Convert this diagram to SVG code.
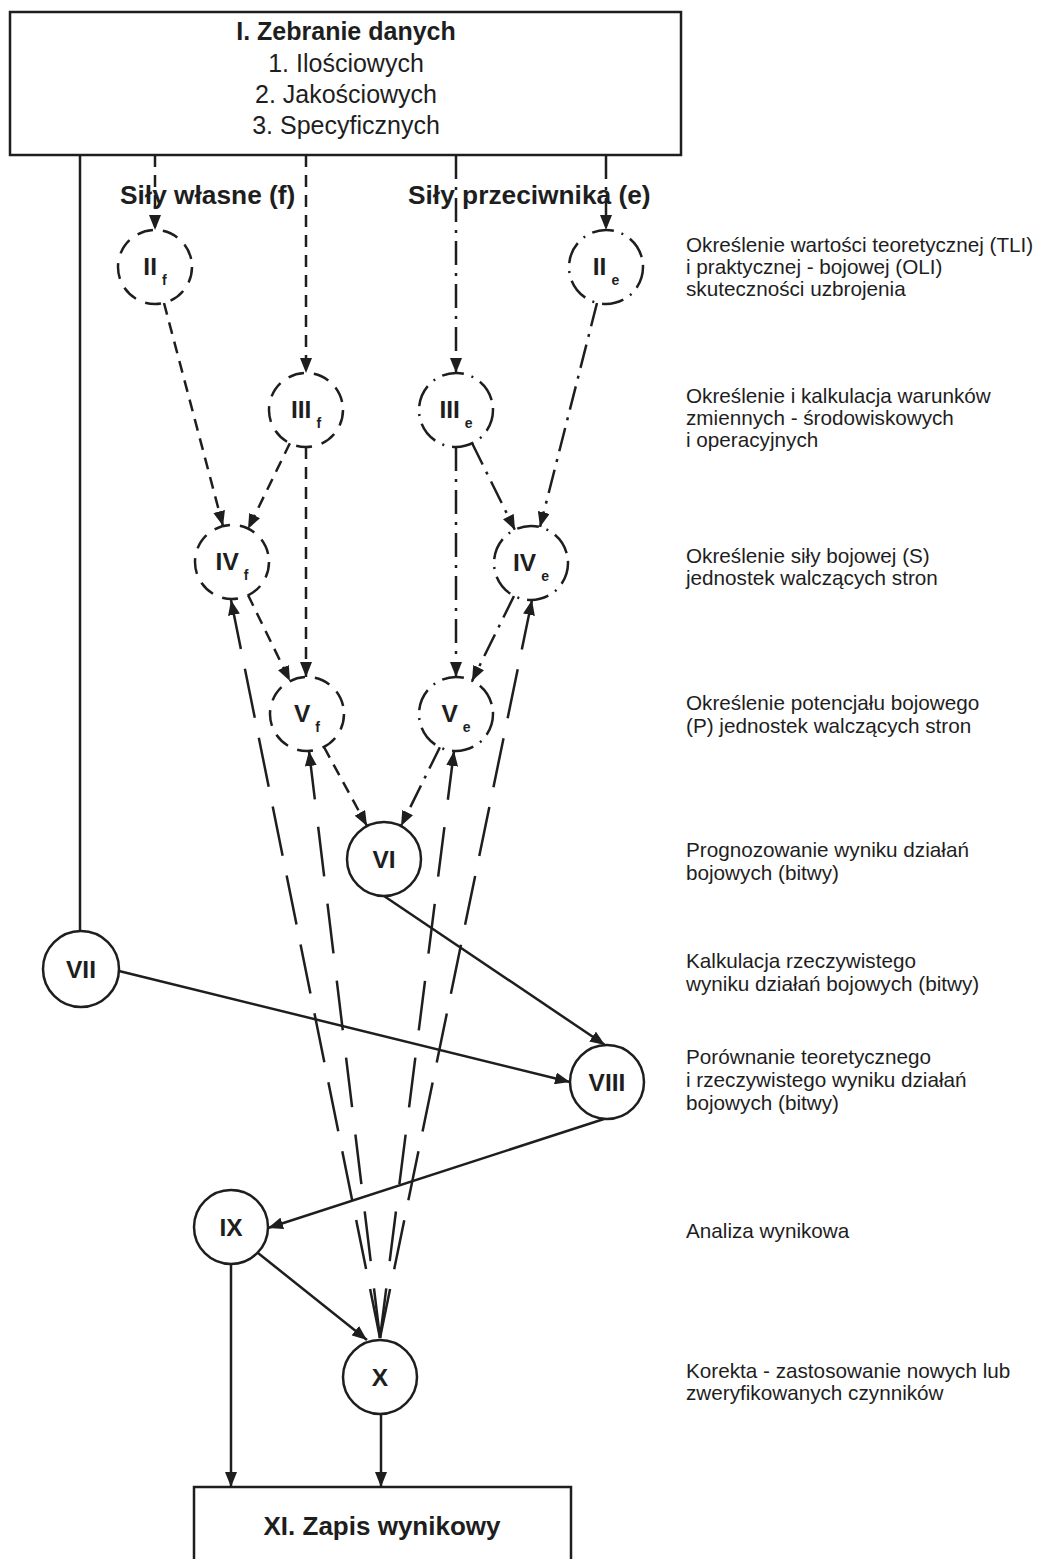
<svg xmlns="http://www.w3.org/2000/svg" width="1042" height="1559" viewBox="0 0 1042 1559">
<defs>
<marker id="ah" viewBox="0 0 15 12" refX="15" refY="6" markerWidth="15" markerHeight="12" markerUnits="userSpaceOnUse" orient="auto"><path d="M0,0 L15,6 L0,12 z" fill="#1e1e1e"/></marker>
</defs>
<style>
.ln{fill:none;stroke:#1e1e1e;stroke-width:2.5}
.fd{stroke-dasharray:12 8}
.ed{stroke-dasharray:24 8 3 8}
.box{fill:#fff;stroke:#1e1e1e;stroke-width:2.5}
.cs{fill:#fff;stroke:#1e1e1e;stroke-width:2.5}
.cf{stroke-dasharray:16 10}
.ce{stroke-dasharray:22 8 2 8}
.t{font-family:"Liberation Sans",Arial,sans-serif;fill:#1e1e1e}
.b{font-weight:bold}
.lab{font-size:20.7px}
.num{font-size:24.5px;font-weight:bold;text-anchor:middle}
.sub{font-size:14px}
.mid{text-anchor:middle}
</style>
<rect width="1042" height="1559" fill="#fff"/>

<g id="connectors">
  <path class="ln" d="M80,155 V931"/>
  <path class="ln fd" d="M155,155 V230" marker-end="url(#ah)"/>
  <path class="ln fd" d="M306,155 V373" marker-end="url(#ah)"/>
  <path class="ln ed" d="M456,155 V373" marker-end="url(#ah)"/>
  <path class="ln ed" d="M606,155 V230" marker-end="url(#ah)"/>
  <path class="ln fd" d="M164,303 L223,526" marker-end="url(#ah)"/>
  <path class="ln fd" d="M290,443 L248,529" marker-end="url(#ah)"/>
  <path class="ln fd" d="M306,447 V677" marker-end="url(#ah)"/>
  <path class="ln fd" d="M248,595 L290,681" marker-end="url(#ah)"/>
  <path class="ln fd" d="M324,747 L367,826" marker-end="url(#ah)"/>
  <path class="ln ed" d="M472,443 L515,530" marker-end="url(#ah)"/>
  <path class="ln ed" d="M456,447 V677" marker-end="url(#ah)"/>
  <path class="ln ed" d="M597,303 L540,527" marker-end="url(#ah)"/>
  <path class="ln ed" d="M514,596 L472,681" marker-end="url(#ah)"/>
  <path class="ln ed" d="M440,747 L401,826" marker-end="url(#ah)"/>
  <path class="ln" d="M384,896 L605,1045" marker-end="url(#ah)"/>
  <path class="ln" d="M119,971 L570,1082" marker-end="url(#ah)"/>
  <path class="ln" d="M604,1119 L268,1228" marker-end="url(#ah)"/>
  <path class="ln" d="M258,1253 L367,1340" marker-end="url(#ah)"/>
  <path class="ln" d="M231,1264 V1487" marker-end="url(#ah)"/>
  <path class="ln" d="M381,1414 V1487" marker-end="url(#ah)"/>
  <path class="ln" style="stroke-dasharray:50 20.3" d="M380,1338 L231,600" marker-end="url(#ah)"/>
  <path class="ln" style="stroke-dasharray:50 27.5" d="M380,1338 L309,751" marker-end="url(#ah)"/>
  <path class="ln" style="stroke-dasharray:50 27.5" d="M380,1338 L454,751" marker-end="url(#ah)"/>
  <path class="ln" style="stroke-dasharray:50 20.3" d="M380,1338 L532,600" marker-end="url(#ah)"/>
</g>

<g id="n1">
  <rect class="box" x="10" y="12" width="671" height="143"/>
  <text class="t b mid" x="346" y="40" font-size="25">I. Zebranie danych</text>
  <text class="t mid" x="346" y="72" font-size="25">1. Ilościowych</text>
  <text class="t mid" x="346" y="103" font-size="25">2. Jakościowych</text>
  <text class="t mid" x="346" y="134" font-size="25">3. Specyficznych</text>
</g>

<g id="heads">
  <text class="t b" x="120" y="204" font-size="26.3">Siły własne (f)</text>
  <text class="t b" x="408" y="204" font-size="26.3">Siły przeciwnika (e)</text>
</g>

<g id="n2f"><circle class="cs cf" cx="155" cy="267" r="37"/><text class="t num" x="155" y="275">II<tspan class="sub" dx="5" dy="10">f</tspan></text></g>
<g id="n2e"><circle class="cs ce" cx="606" cy="267" r="37"/><text class="t num" x="606" y="275">II<tspan class="sub" dx="5" dy="10">e</tspan></text></g>
<g id="n3f"><circle class="cs cf" cx="306" cy="410" r="37"/><text class="t num" x="306" y="418">III<tspan class="sub" dx="5" dy="10">f</tspan></text></g>
<g id="n3e"><circle class="cs ce" cx="456" cy="410" r="37"/><text class="t num" x="456" y="418">III<tspan class="sub" dx="5" dy="10">e</tspan></text></g>
<g id="n4f"><circle class="cs cf" cx="232" cy="562" r="37"/><text class="t num" x="232" y="570">IV<tspan class="sub" dx="5" dy="10">f</tspan></text></g>
<g id="n4e"><circle class="cs ce" cx="531" cy="563" r="37"/><text class="t num" x="531" y="571">IV<tspan class="sub" dx="5" dy="10">e</tspan></text></g>
<g id="n5f"><circle class="cs cf" cx="307" cy="714" r="37"/><text class="t num" x="307" y="722">V<tspan class="sub" dx="5" dy="10">f</tspan></text></g>
<g id="n5e"><circle class="cs ce" cx="456" cy="714" r="37"/><text class="t num" x="456" y="722">V<tspan class="sub" dx="5" dy="10">e</tspan></text></g>
<g id="n6"><circle class="cs" cx="384" cy="859" r="37"/><text class="t num" x="384" y="868">VI</text></g>
<g id="n7"><circle class="cs" cx="81" cy="969" r="38"/><text class="t num" x="81" y="978">VII</text></g>
<g id="n8"><circle class="cs" cx="607" cy="1082" r="37"/><text class="t num" x="607" y="1091">VIII</text></g>
<g id="n9"><circle class="cs" cx="231" cy="1227" r="37"/><text class="t num" x="231" y="1236">IX</text></g>
<g id="n10"><circle class="cs" cx="380" cy="1377" r="37"/><text class="t num" x="380" y="1386">X</text></g>
<g id="n11">
  <rect class="box" x="194" y="1487" width="377" height="90"/>
  <text class="t b mid" x="382" y="1535" font-size="26">XI. Zapis wynikowy</text>
</g>

<g id="labels" class="t lab">
  <text x="686" y="252">Określenie wartości teoretycznej (TLI)</text>
  <text x="686" y="274">i praktycznej - bojowej (OLI)</text>
  <text x="686" y="296">skuteczności uzbrojenia</text>
  <text x="686" y="403">Określenie i kalkulacja warunków</text>
  <text x="686" y="425">zmiennych - środowiskowych</text>
  <text x="686" y="447">i operacyjnych</text>
  <text x="686" y="563">Określenie siły bojowej (S)</text>
  <text x="686" y="585">jednostek walczących stron</text>
  <text x="686" y="710">Określenie potencjału bojowego</text>
  <text x="686" y="733">(P) jednostek walczących stron</text>
  <text x="686" y="857">Prognozowanie wyniku działań</text>
  <text x="686" y="880">bojowych (bitwy)</text>
  <text x="686" y="968">Kalkulacja rzeczywistego</text>
  <text x="686" y="991">wyniku działań bojowych (bitwy)</text>
  <text x="686" y="1064">Porównanie teoretycznego</text>
  <text x="686" y="1087">i rzeczywistego wyniku działań</text>
  <text x="686" y="1110">bojowych (bitwy)</text>
  <text x="686" y="1238">Analiza wynikowa</text>
  <text x="686" y="1378">Korekta - zastosowanie nowych lub</text>
  <text x="686" y="1400">zweryfikowanych czynników</text>
</g>
</svg>
